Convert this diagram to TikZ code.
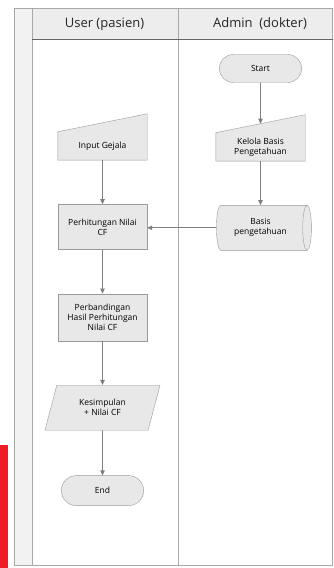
\documentclass[tikz,border=0pt]{standalone}
\usepackage{fontspec}
\setmainfont{Open Sans}
\usepackage{xcolor}
\usetikzlibrary{arrows.meta,positioning,shapes.geometric,shapes.misc,backgrounds}
\definecolor{shapefill}{HTML}{E8E8E8}
\definecolor{shapeline}{HTML}{9A9A9A}
\definecolor{laneline}{HTML}{A8A8A8}
\definecolor{lanehead}{HTML}{EDEDED}
\definecolor{flowarrow}{HTML}{7F7F7F}
\definecolor{redbar}{HTML}{EE1C25}
\tikzset{
  termbox/.style={rounded rectangle,draw=shapeline,fill=shapefill,align=center,
    minimum width=89pt,minimum height=28pt,font=\fontsize{8.5}{10}\selectfont},
  procbox/.style={rectangle,draw=shapeline,fill=shapefill,align=center,
    minimum width=89pt,minimum height=45pt,font=\fontsize{8.5}{10}\selectfont},
  inputbox/.style={rectangle,align=center,minimum width=89pt,minimum height=28pt,
    font=\fontsize{8.5}{10}\selectfont},
  storebox/.style={cylinder,draw=shapeline,fill=shapefill,align=center,aspect=0.35,
    minimum width=45pt,minimum height=95pt,font=\fontsize{8.5}{10}\selectfont},
  databox/.style={trapezium,trapezium left angle=63,trapezium right angle=117,
    trapezium stretches body,draw=shapeline,fill=shapefill,align=center,
    minimum width=115pt,minimum height=45pt,font=\fontsize{8.5}{10}\selectfont},
  flowarrow/.style={-{Triangle[length=5pt,width=4.5pt]},draw=flowarrow,thick},
  lanetitle/.style={font=\fontsize{13}{15}\selectfont,text=black!85}
}
\begin{document}
\begin{tikzpicture}[x=1pt,y=1pt]
  \useasboundingbox (0,0) rectangle (333,568);
  % swimlane frame
  \fill[redbar] (0,0) rectangle (8,123);
  \filldraw[draw=laneline,fill=lanehead!70] (14,3) rectangle (32,560);
  \filldraw[draw=laneline,fill=lanehead] (32,529) rectangle (332.5,560);
  \draw[laneline] (32,3) rectangle (332.5,529);
  \draw[laneline] (178,3) -- (178,560);
  \draw[black!60] (32,529) -- (332.5,529);
  \node[lanetitle] (laneuser) at (104.5,544) {User (pasien)};
  \node[lanetitle] (laneadmin) at (260,544) {Admin\ \ (dokter)};
  % admin lane
  \node[termbox] (start) at (260.5,499.5) {Start};
  \node[inputbox,below=50pt of start] (kelola) {Kelola Basis\\Pengetahuan};
  \node[storebox,below=44pt of kelola] (basis) {Basis\\pengetahuan};
  % user lane
  \node[inputbox] (input) at (102.5,422) {Input Gejala};
  \node[procbox,below=44pt of input] (hitung) {Perhitungan Nilai\\CF};
  \node[procbox,minimum height=47pt,below=44pt of hitung] (banding) {Perbandingan\\Hasil Perhitungan\\Nilai CF};
  \node[databox,below=44pt of banding] (simpul) {Kesimpulan\\+ Nilai CF};
  \node[termbox,minimum height=30pt,below=45pt of simpul] (selesai) {End};
  \begin{pgfonlayer}{background}
    \foreach \n in {input,kelola}
      \filldraw[draw=shapeline,fill=shapefill] (\n.south west) -- (\n.south east)
        -- ([yshift=18pt]\n.north east) -- (\n.north west) -- cycle;
  \end{pgfonlayer}
  % connectors
  \draw[flowarrow] (start) -- ([yshift=9pt]kelola.north);
  \draw[flowarrow] (kelola) -- (basis);
  \draw[flowarrow] (basis) -- (hitung.east |- basis);
  \draw[flowarrow] (input) -- (hitung);
  \draw[flowarrow] (hitung) -- (banding);
  \draw[flowarrow] (banding) -- (simpul);
  \draw[flowarrow] (simpul) -- (selesai);
\end{tikzpicture}
\end{document}
